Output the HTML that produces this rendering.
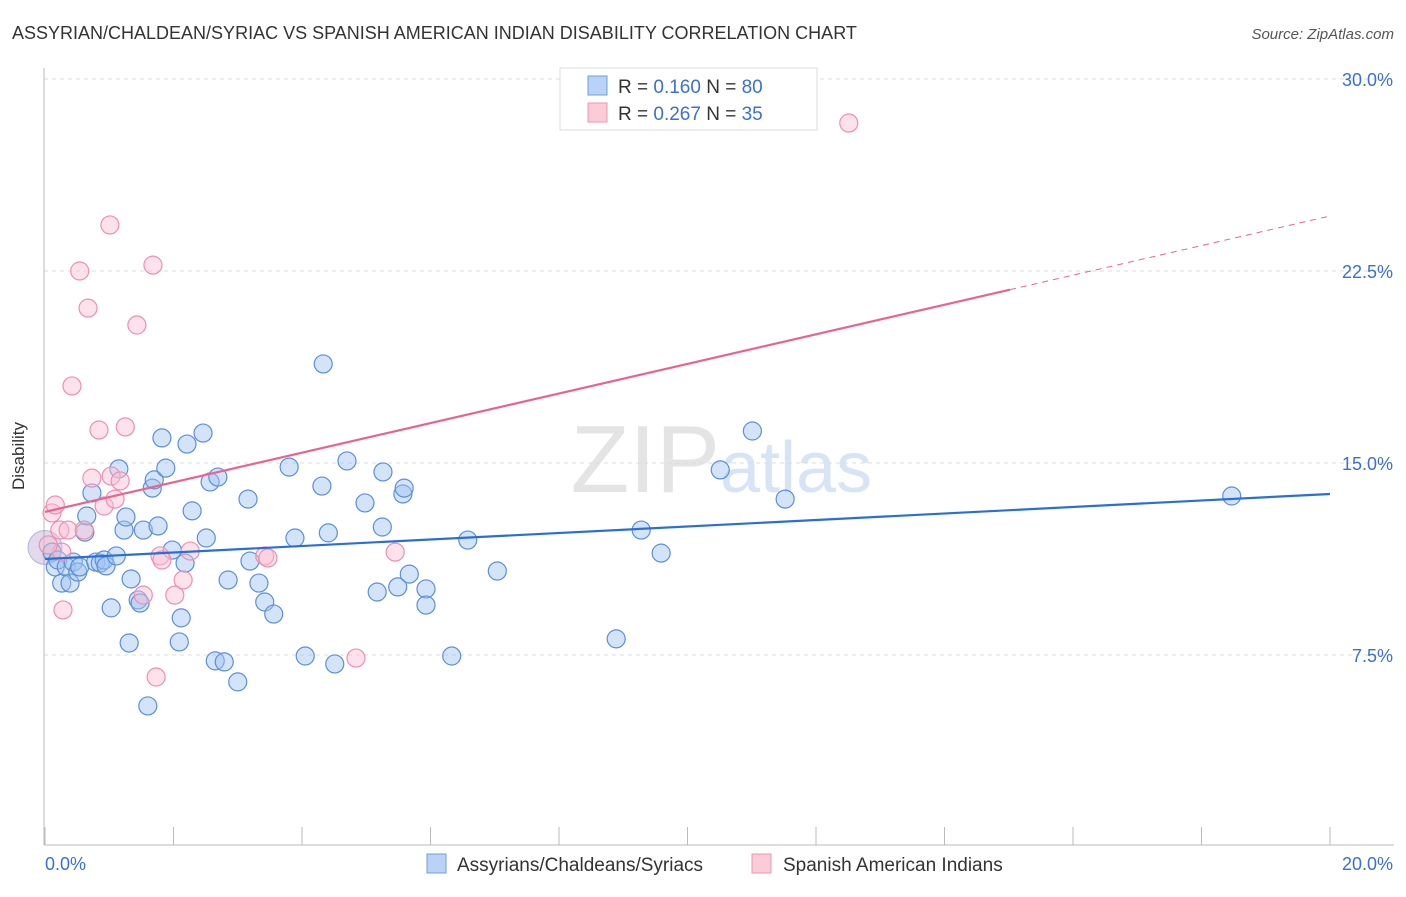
<!DOCTYPE html>
<html><head><meta charset="utf-8"><style>
body{margin:0;background:#fff;font-family:"Liberation Sans",sans-serif;}
svg text{font-family:"Liberation Sans",sans-serif;}
</style></head><body>
<svg id="chart" width="1406" height="892" viewBox="0 0 1406 892" xmlns="http://www.w3.org/2000/svg">
<text x="12" y="39" font-size="18" fill="#333">ASSYRIAN/CHALDEAN/SYRIAC VS SPANISH AMERICAN INDIAN DISABILITY CORRELATION CHART</text>
<text x="1394" y="39" font-size="15" fill="#555" font-style="italic" text-anchor="end">Source: ZipAtlas.com</text>
<text x="720" y="492" font-size="96" fill="#e4e4e4" text-anchor="end" font-family="Liberation Serif">ZIP</text>
<text x="720" y="492" font-size="72" fill="#d6e4f5">atlas</text>
<g id="grid"></g>
<line x1="44" y1="68" x2="44" y2="845" stroke="#bbb"/>
<line x1="44" y1="845" x2="1394" y2="845" stroke="#bbb"/>
<g id="xticks"></g>
<text x="24" y="456" font-size="17" fill="#333" text-anchor="middle" transform="rotate(-90 24 456)">Disability</text>
<text x="45" y="870" font-size="18" fill="#3b6fd4">0.0%</text>
<text x="1393" y="870" font-size="18" fill="#3b6fd4" text-anchor="end">20.0%</text>
<g id="pts"></g>
<g id="lines"></g>
<g>
<rect x="560" y="68" width="257" height="62" fill="#fff" stroke="#ddd"/>
<rect x="588" y="76" width="19" height="19" fill="#b8d3f5" stroke="#6f9de0"/>
<rect x="588" y="103" width="19" height="19" fill="#fbcbd9" stroke="#ef94b0"/>
<text x="618" y="93" font-size="19" fill="#333">R = <tspan fill="#3b6fd4">0.160</tspan>   N = <tspan fill="#3b6fd4">80</tspan></text>
<text x="618" y="120" font-size="19" fill="#333">R = <tspan fill="#3b6fd4">0.267</tspan>   N = <tspan fill="#3b6fd4">35</tspan></text>
</g>
<g>
<rect x="427" y="854" width="19" height="19" fill="#b8d3f5" stroke="#6f9de0"/>
<text x="457" y="871" font-size="19" fill="#333">Assyrians/Chaldeans/Syriacs</text>
<rect x="752" y="854" width="19" height="19" fill="#fbcbd9" stroke="#ef94b0"/>
<text x="783" y="871" font-size="19" fill="#333">Spanish American Indians</text>
</g>
</svg>
<script>
const blueX=[0.11,0.16,0.20,0.26,0.33,0.39,0.44,0.51,0.54,0.62,0.65,0.73,0.79,0.86,0.92,0.95,1.03,1.11,1.15,1.23,1.26,1.31,1.34,1.45,1.48,1.53,1.60,1.67,1.70,1.76,1.82,1.88,1.98,2.09,2.12,2.18,2.21,2.29,2.46,2.51,2.57,2.65,2.69,2.79,2.85,3.00,3.16,3.19,3.33,3.42,3.56,3.80,3.89,4.05,4.31,4.33,4.41,4.51,4.70,4.98,5.17,5.25,5.26,5.49,5.57,5.59,5.67,5.93,5.93,6.33,6.58,7.04,8.89,9.28,9.59,10.51,11.01,11.52,18.47];
const blueY=[11.52,10.94,11.21,10.31,10.94,10.31,11.13,10.74,10.94,12.30,12.93,13.83,11.13,11.09,11.21,10.98,9.34,11.37,14.77,12.38,12.89,7.97,10.47,9.65,9.53,12.38,5.51,14.02,14.34,12.54,15.98,14.80,11.60,8.01,8.95,11.09,15.74,13.13,16.17,12.07,14.26,7.27,14.45,7.23,10.43,6.45,13.59,11.17,10.31,9.57,9.10,14.84,12.07,7.46,14.10,18.87,12.27,7.15,15.08,13.44,9.96,12.50,14.65,10.16,13.79,14.02,10.66,10.08,9.45,7.46,11.99,10.78,8.13,12.38,11.48,14.73,16.25,13.59,13.71];
const pinkX=[0.11,0.16,0.23,0.26,0.28,0.42,0.36,0.54,0.61,0.67,0.73,0.84,0.92,1.01,1.03,1.09,1.17,1.25,1.43,1.53,1.68,1.73,1.79,1.82,2.02,2.15,2.26,3.42,3.47,4.84,5.45,12.51,0.05];
const pinkY=[13.05,13.36,12.38,11.52,9.26,18.01,12.38,22.50,12.38,21.05,14.41,16.29,13.32,24.30,14.49,13.59,14.30,16.41,20.39,9.84,22.73,6.64,11.37,11.21,9.84,10.43,11.56,11.37,11.29,7.38,11.52,28.28,11.80];
const blueTrend=[11.25,13.79];
const pinkTrend=[13.09,24.65];
const pinkSolidEnd=15.02;
const yTicks=[7.5,15,22.5,30];
const yTickLabels=["7.5%","15.0%","22.5%","30.0%"];
const xTicks=[0,2,4,6,8,10,12,14,16,18,20];
const NS="http://www.w3.org/2000/svg";
const sx=v=>45+v*64.25, sy=v=>847-v*25.6;
function mk(t,a,p){const e=document.createElementNS(NS,t);for(const k in a)e.setAttribute(k,a[k]);p.appendChild(e);return e;}
const grid=document.getElementById('grid');
yTicks.forEach((v,i)=>{
 const l=mk('line',{x1:44,x2:1394,y1:sy(v),y2:sy(v),stroke:'#ddd','stroke-dasharray':'4,4'},grid);
 
 
 const t=mk('text',{x:1393,y:sy(v)+7,'font-size':18,fill:'#3b6fd4','text-anchor':'end'},grid);
 t.textContent=yTickLabels[i];
 
 
});
const xt=document.getElementById('xticks');
xTicks.forEach(v=>{
 const l=mk('line',{x1:sx(v),x2:sx(v),y1:827,y2:845,stroke:'#bbb'},xt);
 
 
});
const pts=document.getElementById('pts');
const big=mk('circle',{cx:sx(0),cy:sy(11.7),r:17,fill:'rgba(170,150,200,0.35)',stroke:'rgba(150,140,200,0.6)'},pts);


blueX.forEach((x,i)=>{
 const c=mk('circle',{cx:sx(x),cy:sy(blueY[i]),r:9,fill:'rgba(160,195,240,0.45)',stroke:'#5b8fd9','stroke-width':1.2},pts);
 
 
});
pinkX.forEach((x,i)=>{
 const c=mk('circle',{cx:sx(x),cy:sy(pinkY[i]),r:9,fill:'rgba(250,190,210,0.45)',stroke:'#ee8fb0','stroke-width':1.2},pts);
 
 
});
const ln=document.getElementById('lines');
const bl=mk('line',{x1:sx(0),y1:sy(blueTrend[0]),x2:sx(20),y2:sy(blueTrend[1]),stroke:'#2a6fd6','stroke-width':2.2},ln);


const py=x=>pinkTrend[0]+(pinkTrend[1]-pinkTrend[0])*x/20;
const pl=mk('line',{x1:sx(0),y1:sy(py(0)),x2:sx(pinkSolidEnd),y2:sy(py(pinkSolidEnd)),stroke:'#e8648e','stroke-width':2.2},ln);


const pd=mk('line',{x1:sx(pinkSolidEnd),y1:sy(py(pinkSolidEnd)),x2:sx(20),y2:sy(py(20)),stroke:'#e8648e','stroke-width':1,'stroke-dasharray':'6,5'},ln);


</script>
</body></html>
